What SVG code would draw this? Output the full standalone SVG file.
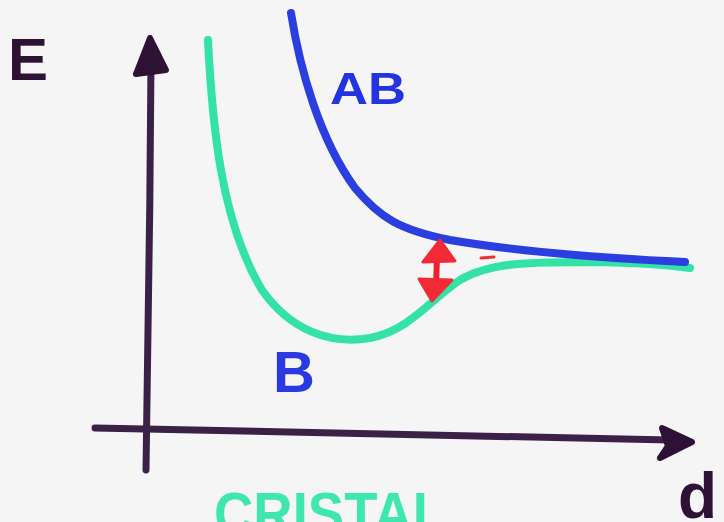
<svg xmlns="http://www.w3.org/2000/svg" width="724" height="522" viewBox="0 0 724 522">
<style>
.ax{fill:none;stroke:#3b2048;stroke-width:7;stroke-linecap:round;stroke-linejoin:round}
.ah{fill:#2e1236;stroke:#2e1236;stroke-width:6;stroke-linejoin:round}
.cv{fill:none;stroke-width:8;stroke-linecap:round;stroke-linejoin:round}
.lbl{font-family:"Liberation Sans",Arial,sans-serif;font-weight:bold}
</style>
<rect width="724" height="522" fill="#f5f5f5"/>
<g id="connectors">
<path class="ax" d="M146,470 C148,400 150,200 151,60"/>
<path class="ax" d="M95,428 C250,431 450,436 670,440"/>
</g>
<g id="y-axis-head"><polygon class="ah" points="150,38 136,74 166,70"/></g>
<g id="x-axis-head"><polygon class="ah" points="692,442 662,428 668,446 660,458"/></g>
<g id="curve-B">
<path class="cv" stroke="#33e3a6" d="M208,40 C212,120 220,220 262,290 C290,330 330,345 370,338 C410,330 430,300 460,280 C490,262 530,262 600,262 C640,263 670,265 690,268"/>
</g>
<g id="curve-AB">
<path class="cv" stroke="#2b3fe0" d="M291,13 C300,70 320,140 355,188 C380,218 400,230 450,240 C520,252 600,258 685,262"/>
</g>
<g id="gap-arrow">
<line x1="437" y1="255" x2="436" y2="288" stroke="#f02030" stroke-width="6"/>
<polygon points="440,240 423,262 455,261" fill="#f22a35" stroke="#f22a35" stroke-width="3" stroke-linejoin="round"/>
<polygon points="419,279 452,280 432,301" fill="#f22a35" stroke="#f22a35" stroke-width="3" stroke-linejoin="round"/>
<line x1="481" y1="258" x2="494" y2="257" stroke="#f03030" stroke-width="3" stroke-linecap="round"/>
</g>
<g id="label-E"><text class="lbl" x="8" y="80" font-size="60" fill="#2e1236">E</text></g>
<g id="label-AB"><text class="lbl" x="330" y="104" font-size="44" textLength="76" lengthAdjust="spacingAndGlyphs" fill="#2233e0">AB</text></g>
<g id="label-B"><text class="lbl" x="273" y="392" font-size="58" fill="#2a3ae0">B</text></g>
<g id="label-d"><text class="lbl" x="678" y="518" font-size="64" fill="#2e1236">d</text></g>
<g id="label-cristal"><text class="lbl" x="214" y="534" font-size="60" textLength="232" lengthAdjust="spacingAndGlyphs" fill="#3ee6b0">CRISTAL</text></g>
</svg>
